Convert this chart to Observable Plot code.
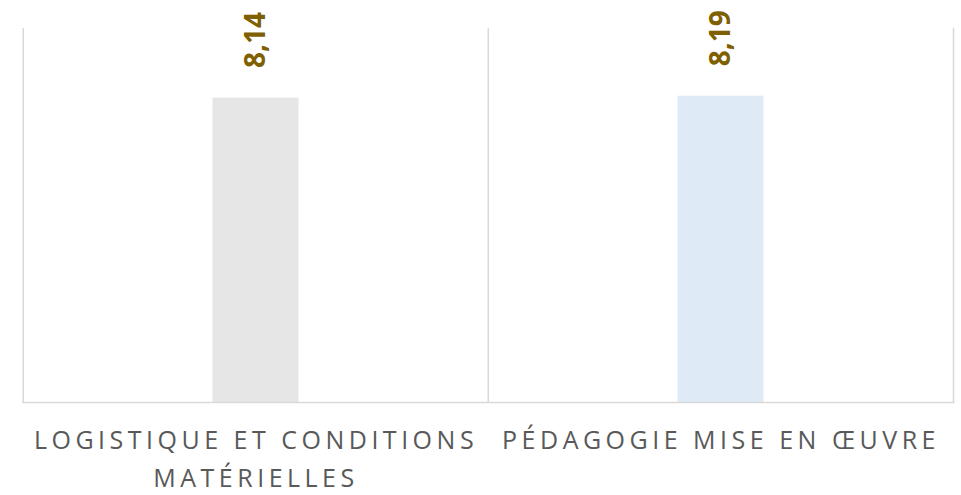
<!DOCTYPE html>
<html>
<head>
<meta charset="utf-8">
<script src="https://cdn.jsdelivr.net/npm/d3@7"></script>
<script src="https://cdn.jsdelivr.net/npm/@observablehq/plot@0.6"></script>
<style>
  html, body { margin: 0; padding: 0; background: #ffffff; }
  #chart svg g[aria-label="x-axis tick label"] text { letter-spacing: 4.5px; }
</style>
</head>
<body>
<div id="chart"></div>
<script>
const categories = ["LOGISTIQUE ET CONDITIONS MATÉRIELLES", "PÉDAGOGIE MISE EN ŒUVRE"];
const tickLabels = ["LOGISTIQUE ET CONDITIONS\nMATÉRIELLES", "PÉDAGOGIE MISE EN ŒUVRE"];
const values = [8.14, 8.19];
const valueLabels = ["8,14", "8,19"];
const barColors = ["#e7e6e6", "#deebf7"];

const data = categories.map((c, i) => ({cat: c, value: values[i], label: valueLabels[i]}));

const W = 961, H = 495, ML = 22, MR = 8, MT = 28, MB = 93;
const bandW = (W - ML - MR) / categories.length;
const grid = "#d9d9d9";

const chart = Plot.plot({
  width: W,
  height: H,
  marginLeft: ML,
  marginRight: MR,
  marginTop: MT,
  marginBottom: MB,
  style: {fontFamily: "'Open Sans', sans-serif", background: "#ffffff"},
  x: {domain: categories, padding: 0, label: null},
  y: {domain: [0, 10], axis: null},
  color: {domain: categories, range: barColors},
  marks: [
    Plot.ruleX(categories, {x: d => d, dx: -bandW / 2, stroke: grid, strokeWidth: 1.5}),
    Plot.frame({anchor: "right", stroke: grid, strokeWidth: 1.5}),
    Plot.barY(data, {x: "cat", y: "value", fill: "cat", insetLeft: 189.5, insetRight: 189.5}),
    Plot.ruleY([0], {stroke: grid, strokeWidth: 1.5}),
    Plot.text(data, {
      x: "cat", y: "value", text: "label", rotate: -90, textAnchor: "start",
      dy: -30, fill: "#7f6000", fontWeight: "bold", fontSize: 28
    }),
    Plot.axisX({
      tickSize: 0, tickPadding: 20, fontSize: 25, fill: "#595959",
      lineHeight: 1.5, label: null,
      tickFormat: d => tickLabels[categories.indexOf(d)]
    })
  ]
});
document.getElementById("chart").appendChild(chart);
</script>
</body>
</html>
